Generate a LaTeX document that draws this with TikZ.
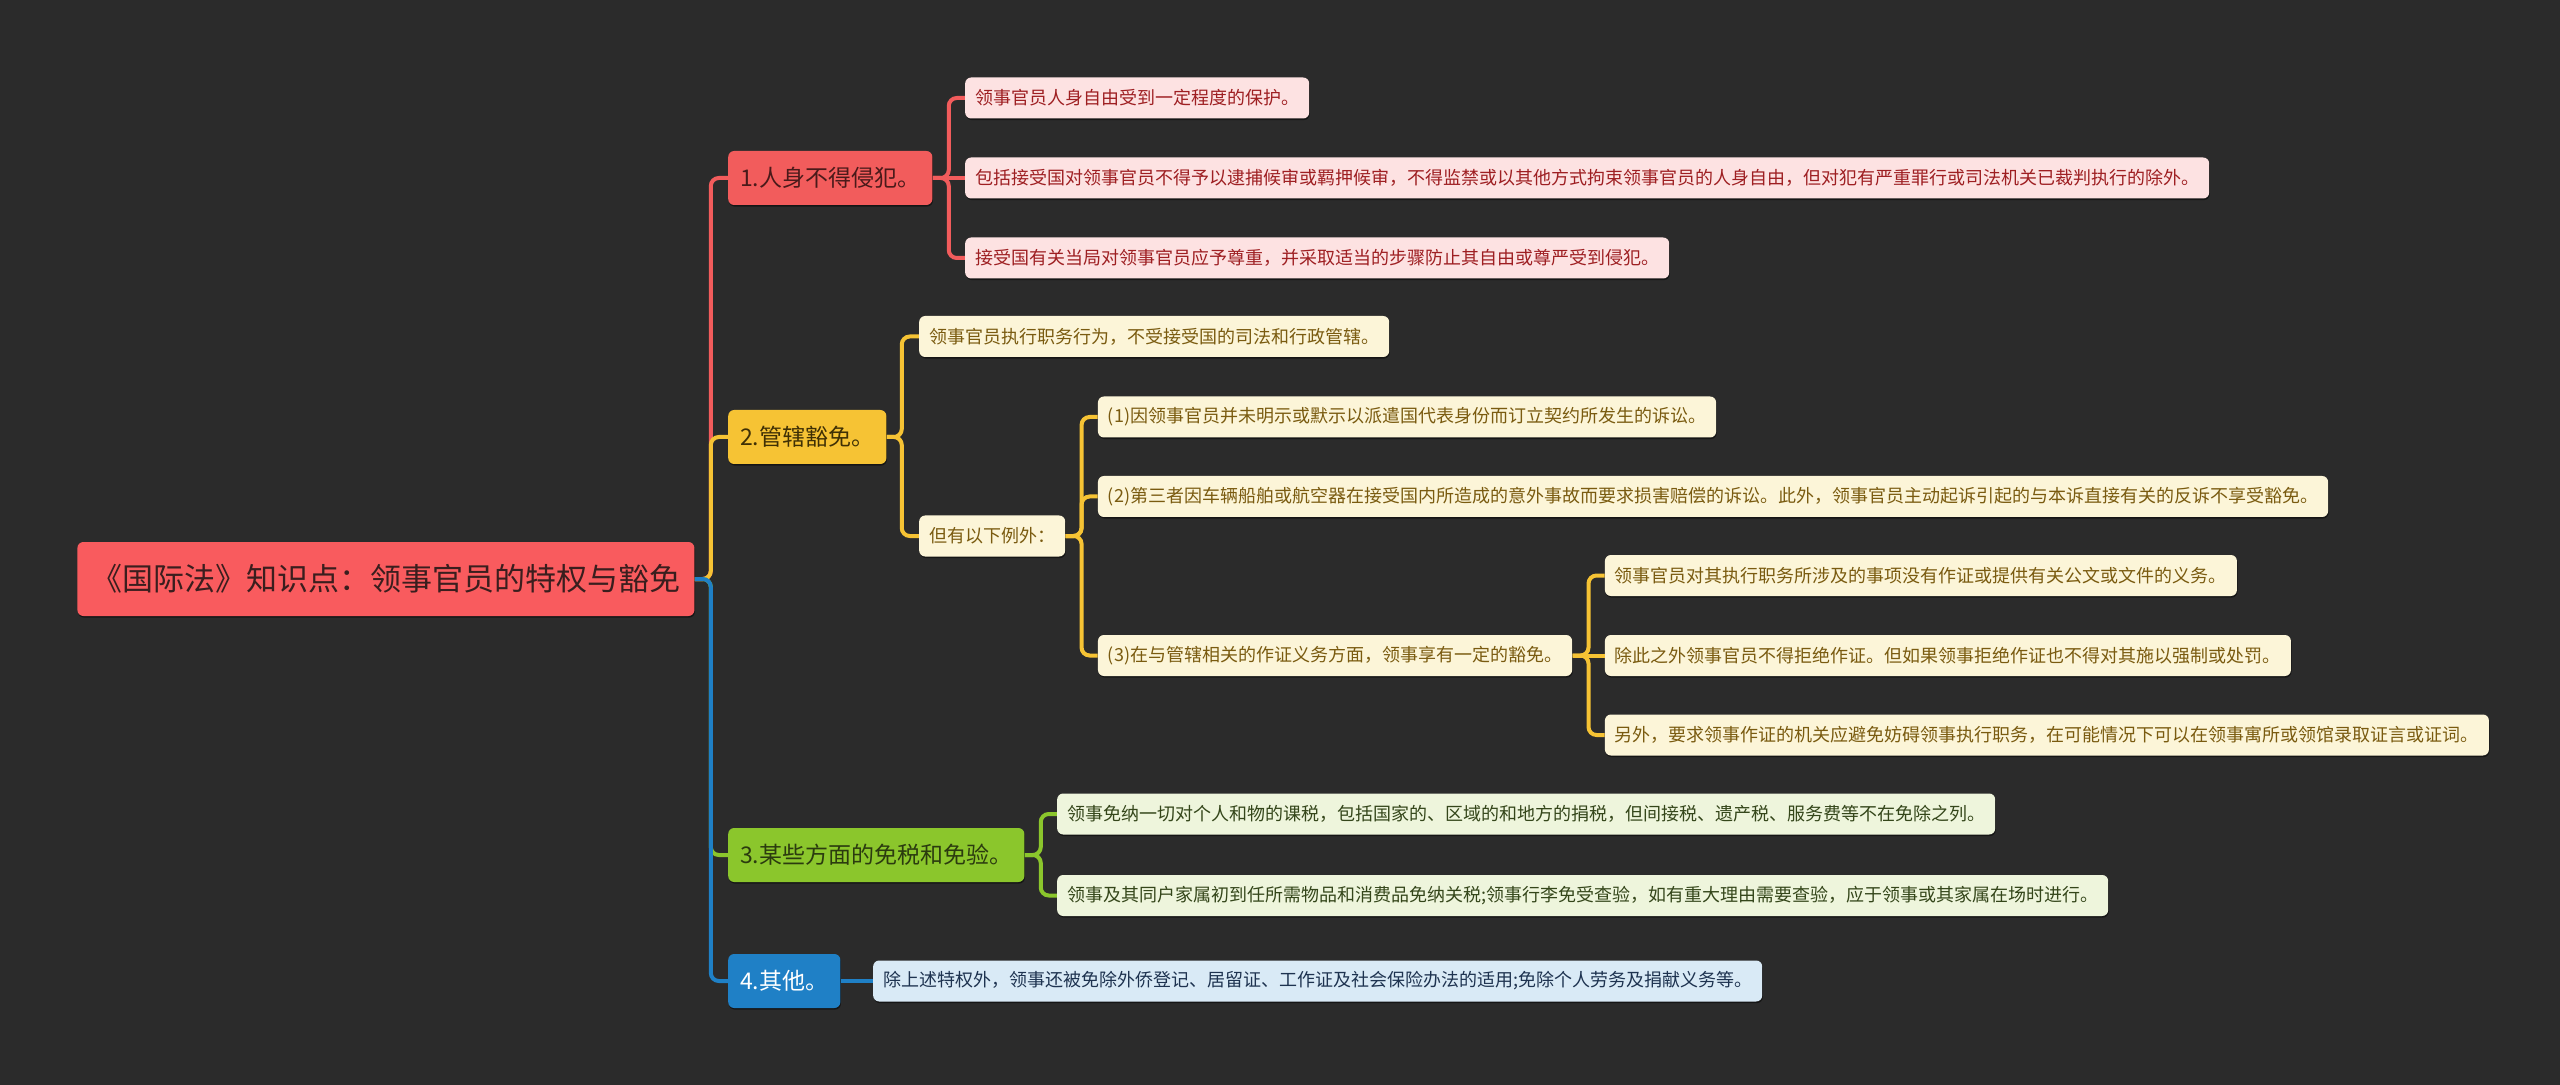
\documentclass[tikz,border=0pt]{standalone}
\usepackage{fontspec}
\setmainfont{Noto Sans CJK SC}
\usetikzlibrary{shadows}

\definecolor{canvas}{HTML}{2B2B2B}
\definecolor{rootred}{HTML}{F95B5E}
\definecolor{rootink}{HTML}{3A1E1E}
\definecolor{redmain}{HTML}{F25C5C}
\definecolor{yelmain}{HTML}{F6C334}
\definecolor{grnmain}{HTML}{8BC62C}
\definecolor{blumain}{HTML}{1F80C6}
\definecolor{redtop}{HTML}{4A1A1A}
\definecolor{yeltop}{HTML}{3F3005}
\definecolor{grntop}{HTML}{2B3B0F}
\definecolor{redleaf}{HTML}{FDE2E2}
\definecolor{yelleaf}{HTML}{FCF5D8}
\definecolor{grnleaf}{HTML}{EEF5DC}
\definecolor{bluleaf}{HTML}{D9EAF6}
\definecolor{redink}{HTML}{9E1F22}
\definecolor{yelink}{HTML}{7A5B10}
\definecolor{grnink}{HTML}{34461A}
\definecolor{bluink}{HTML}{1E3350}

\begin{document}
\begin{tikzpicture}[x=0.5pt, y=-0.5pt,
    box/.style={anchor=west, rounded corners=3pt, inner ysep=0pt,
      drop shadow={shadow xshift=0.3pt, shadow yshift=-0.8pt, fill=black, opacity=0.5}},
    rootbox/.style={box, fill=rootred, text=rootink, inner xsep=7pt,
      minimum height=37pt, font=\fontsize{15.5pt}{18pt}\selectfont},
    topic/.style={box, fill=#1main, text=#1top, inner xsep=6pt, minimum height=27pt,
      xshift=16.5pt, font=\fontsize{11.5pt}{14pt}\selectfont},
    leaf/.style={box, fill=#1leaf, text=#1ink, inner xsep=5pt,
      minimum height=20.5pt, xshift=16pt, font=\fontsize{9pt}{11pt}\selectfont},
    link/.style={draw=#1main, line width=2pt, rounded corners=4pt}]
  % dark canvas
  \fill[canvas] (0,0) rectangle (2560,1085);
  \useasboundingbox (0,0) rectangle (2560,1085);

  % root and the four topics
  \node[rootbox] (root) at (77,579) {《国际法》知识点：领事官员的特权与豁免};
  \node[topic=red] (n1) at (root.east |- 0,178) {1.人身不得侵犯。};
  \node[topic=yel] (n2) at (root.east |- 0,437) {2.管辖豁免。};
  \node[topic=grn] (n3) at (root.east |- 0,855) {3.某些方面的免税和免验。};
  \node[topic=blu, text=white] (n4) at (root.east |- 0,981) {4.其他。};

  % 1. personal inviolability
  \node[leaf=red] (a1) at (n1.east |- 0,98) {领事官员人身自由受到一定程度的保护。};
  \node[leaf=red] (a2) at (n1.east) {包括接受国对领事官员不得予以逮捕候审或羁押候审，不得监禁或以其他方式拘束领事官员的人身自由，但对犯有严重罪行或司法机关已裁判执行的除外。};
  \node[leaf=red] (a3) at (n1.east |- 0,258) {接受国有关当局对领事官员应予尊重，并采取适当的步骤防止其自由或尊严受到侵犯。};

  % 2. jurisdictional immunity
  \node[leaf=yel] (b1) at (n2.east |- 0,336.5) {领事官员执行职务行为，不受接受国的司法和行政管辖。};
  \node[leaf=yel] (ex) at (n2.east |- 0,536) {但有以下例外：};
  \node[leaf=yel] (x1) at (ex.east |- 0,417) {(1)因领事官员并未明示或默示以派遣国代表身份而订立契约所发生的诉讼。};
  \node[leaf=yel] (x2) at (ex.east |- 0,496.5) {(2)第三者因车辆船舶或航空器在接受国内所造成的意外事故而要求损害赔偿的诉讼。此外，领事官员主动起诉引起的与本诉直接有关的反诉不享受豁免。};
  \node[leaf=yel] (x3) at (ex.east |- 0,655.5) {(3)在与管辖相关的作证义务方面，领事享有一定的豁免。};
  \node[leaf=yel] (w1) at (x3.east |- 0,575.5) {领事官员对其执行职务所涉及的事项没有作证或提供有关公文或文件的义务。};
  \node[leaf=yel] (w2) at (x3.east) {除此之外领事官员不得拒绝作证。但如果领事拒绝作证也不得对其施以强制或处罚。};
  \node[leaf=yel] (w3) at (x3.east |- 0,735) {另外，要求领事作证的机关应避免妨碍领事执行职务，在可能情况下可以在领事寓所或领馆录取证言或证词。};

  % 3. tax and customs exemption
  \node[leaf=grn] (g1) at (n3.east |- 0,814) {领事免纳一切对个人和物的课税，包括国家的、区域的和地方的捐税，但间接税、遗产税、服务费等不在免除之列。};
  \node[leaf=grn] (g2) at (n3.east |- 0,895.5) {领事及其同户家属初到任所需物品和消费品免纳关税;领事行李免受查验，如有重大理由需要查验，应于领事或其家属在场时进行。};

  % 4. others
  \node[leaf=blu] (o1) at (n4.east) {除上述特权外，领事还被免除外侨登记、居留证、工作证及社会保险办法的适用;免除个人劳务及捐献义务等。};

  % connectors
  \foreach \t/\col in {n1/red, n2/yel, n3/grn, n4/blu}
    \draw[link=\col] (root.east) -- ++(16,0) |- (\t.west);
  \foreach \t in {a1, a3}
    \draw[link=red] (n1.east) -- ++(16,0) |- (\t.west);
  \draw[link=red] (n1.east) -- (a2.west);
  \foreach \t in {b1, ex}
    \draw[link=yel] (n2.east) -- ++(15,0) |- (\t.west);
  \foreach \t in {x1, x2, x3}
    \draw[link=yel] (ex.east) -- ++(16,0) |- (\t.west);
  \foreach \t in {w1, w3}
    \draw[link=yel] (x3.east) -- ++(16,0) |- (\t.west);
  \draw[link=yel] (x3.east) -- (w2.west);
  \foreach \t in {g1, g2}
    \draw[link=grn] (n3.east) -- ++(16,0) |- (\t.west);
  \draw[link=blu] (n4.east) -- (o1.west);
\end{tikzpicture}
\end{document}
